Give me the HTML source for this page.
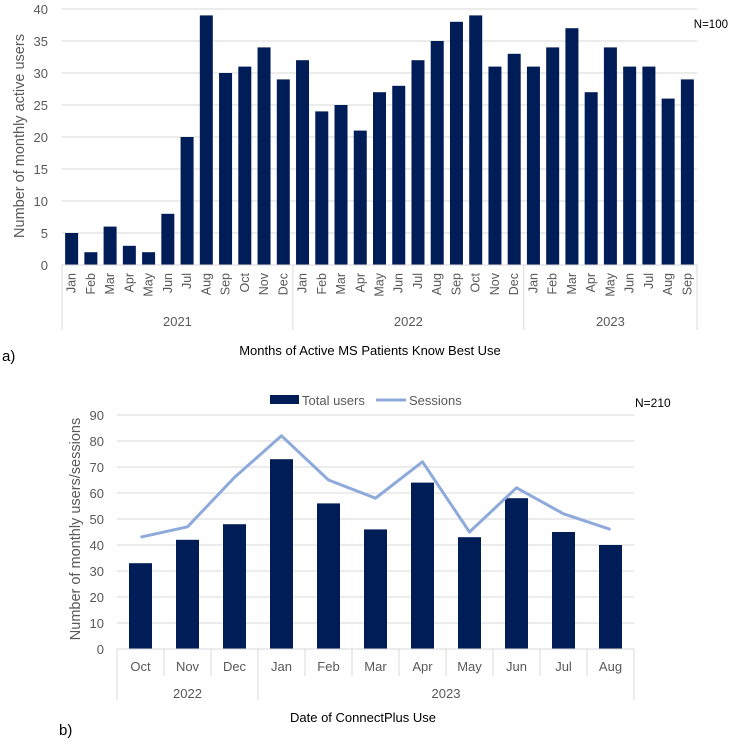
<!DOCTYPE html>
<html><head><meta charset="utf-8"><style>
body{margin:0;background:#fff;}
svg text{font-family:"Liberation Sans",sans-serif;fill:#595959;}
</style></head><body>
<svg id="s" width="730" height="740"></svg>
<script>
const monthsA=["Jan","Feb","Mar","Apr","May","Jun","Jul","Aug","Sep","Oct","Nov","Dec","Jan","Feb","Mar","Apr","May","Jun","Jul","Aug","Sep","Oct","Nov","Dec","Jan","Feb","Mar","Apr","May","Jun","Jul","Aug","Sep"];
const yearsA=[{label:"2021",n:12},{label:"2022",n:12},{label:"2023",n:9}];
const usersA=[5,2,6,3,2,8,20,39,30,31,34,29,32,24,25,21,27,28,32,35,38,39,31,33,31,34,37,27,34,31,31,26,29];
const ticksA=[0,5,10,15,20,25,30,35,40];
const monthsB=["Oct","Nov","Dec","Jan","Feb","Mar","Apr","May","Jun","Jul","Aug"];
const yearsB=[{label:"2022",n:3},{label:"2023",n:8}];
const usersB=[33,42,48,73,56,46,64,43,58,45,40];
const sessionsB=[43,47,66,82,65,58,72,45,62,52,46];
const ticksB=[0,10,20,30,40,50,60,70,80,90];
const svg=document.getElementById('s');
const NS="http://www.w3.org/2000/svg";
function mk(tag,attrs,txt){const e=document.createElementNS(NS,tag);for(const k in attrs)e.setAttribute(k,attrs[k]);if(txt!==undefined)e.textContent=txt;svg.appendChild(e);return e;}
const bar="#001d58";
// Chart A
const aL=62,aR=697,a0=265,aT=9,aMax=40;
const ya=v=>a0-(a0-aT)*v/aMax;
const sa=(aR-aL)/monthsA.length;
ticksA.forEach(t=>{
 if(t>0){const g=mk('line',{x1:aL,x2:aR,y1:ya(t),y2:ya(t),stroke:"#d9d9d9","stroke-width":1});}
 const l=mk('text',{x:aL-14,y:ya(t)+5,"text-anchor":"end","font-size":13},t);
});
usersA.forEach((v,i)=>{const r=mk('rect',{x:aL+i*sa+sa/2-6.5,y:ya(v),width:13,height:a0-ya(v),fill:bar});
 const t=mk('text',{x:0,y:0,"font-size":12.5,"text-anchor":"end",transform:`translate(${aL+i*sa+sa/2+4},${a0+8}) rotate(-90)`},monthsA[i]);});
mk('line',{x1:aL,x2:aR,y1:a0,y2:a0,stroke:"#d9d9d9"});
let c=0;
[0].concat(yearsA.map(y=>(c+=y.n))).forEach(n=>{const l=mk('line',{x1:aL+n*sa,x2:aL+n*sa,y1:a0,y2:330,stroke:"#d9d9d9"});});
c=0;yearsA.forEach(y=>{const t=mk('text',{x:aL+(c+y.n/2)*sa,y:326,"text-anchor":"middle","font-size":13},y.label);c+=y.n;});
let e=mk('text',{x:0,y:0,"font-size":14.5,"text-anchor":"middle",transform:"translate(24,136) rotate(-90)"},"Number of monthly active users");
e=mk('text',{x:370,y:355,"font-size":13,"text-anchor":"middle",style:"fill:#000"},"Months of Active MS Patients Know Best Use");
e=mk('text',{x:728,y:28,"font-size":11.5,"text-anchor":"end",style:"fill:#000"},"N=100");
e=mk('text',{x:2,y:361,"font-size":15,style:"fill:#000"},"a)");
// Chart B
const bL=117,bR=634,b0=649,bT=415,bMax=90;
const yb=v=>b0-(b0-bT)*v/bMax;
const sb=(bR-bL)/monthsB.length;
ticksB.forEach(t=>{
 if(t>0){const g=mk('line',{x1:bL,x2:bR,y1:yb(t),y2:yb(t),stroke:"#d9d9d9"});}
 const l=mk('text',{x:bL-13,y:yb(t)+5,"text-anchor":"end","font-size":13},t);
});
usersB.forEach((v,i)=>{const r=mk('rect',{x:bL+i*sb+sb/2-11.5,y:yb(v),width:23,height:b0-yb(v),fill:bar});
 const t=mk('text',{x:bL+i*sb+sb/2,y:671,"text-anchor":"middle","font-size":13},monthsB[i]);
 if(i>0){const l=mk('line',{x1:bL+i*sb,x2:bL+i*sb,y1:b0,y2:676,stroke:"#d9d9d9"});}
});
const pl=mk('polyline',{points:sessionsB.map((v,i)=>(bL+i*sb+sb/2)+","+yb(v)).join(" "),fill:"none",stroke:"#8eaadb","stroke-width":3,"stroke-linejoin":"round"});

mk('line',{x1:bL,x2:bR,y1:b0,y2:b0,stroke:"#d9d9d9"});
c=0;
[0].concat(yearsB.map(y=>(c+=y.n))).forEach(n=>{const l=mk('line',{x1:bL+n*sb,x2:bL+n*sb,y1:b0,y2:700,stroke:"#d9d9d9"});});
c=0;yearsB.forEach(y=>{const t=mk('text',{x:bL+(c+y.n/2)*sb,y:698,"text-anchor":"middle","font-size":13},y.label);c+=y.n;});
e=mk('text',{x:0,y:0,"font-size":14.5,"text-anchor":"middle",transform:"translate(80,529) rotate(-90)"},"Number of monthly users/sessions");
e=mk('text',{x:290,y:722,"font-size":13,"text-anchor":"start",style:"fill:#000"},"Date of ConnectPlus Use");
e=mk('rect',{x:270,y:395,width:29,height:9,fill:bar});
e=mk('text',{x:302,y:405,"font-size":13},"Total users");
e=mk('line',{x1:376,x2:406,y1:400,y2:400,stroke:"#8eaadb","stroke-width":3});
e=mk('text',{x:409,y:405,"font-size":13},"Sessions");
e=mk('text',{x:635,y:407,"font-size":12,style:"fill:#000"},"N=210");
e=mk('text',{x:59,y:735,"font-size":15,style:"fill:#000"},"b)");
</script>
</body></html>
